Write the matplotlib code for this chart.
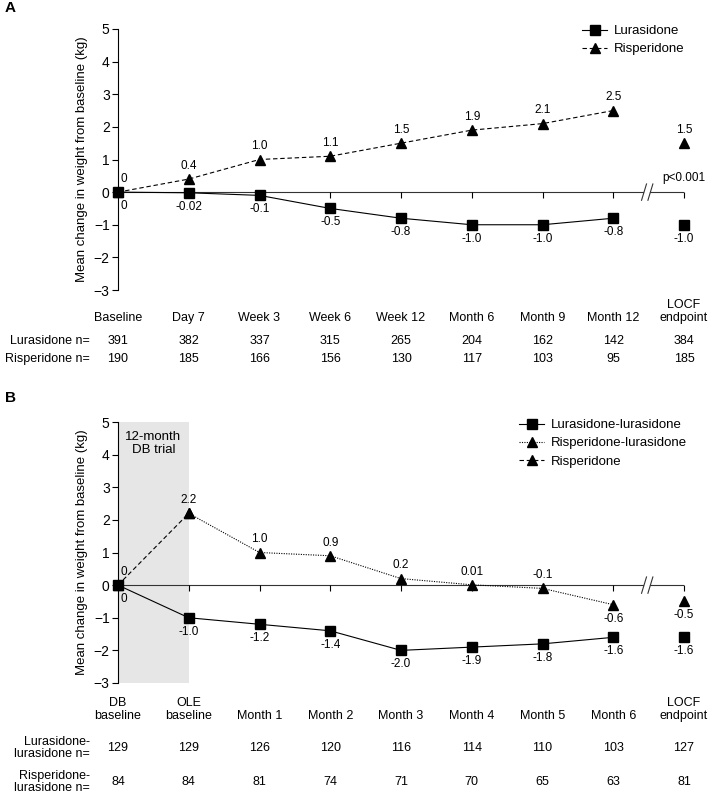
import matplotlib
matplotlib.use('Agg')
import matplotlib.pyplot as plt
from matplotlib.transforms import blended_transform_factory

plt.rcParams['font.family'] = ['Liberation Sans', 'DejaVu Sans']

# ---- panel A data
a_cats = ['Baseline', 'Day 7', 'Week 3', 'Week 6', 'Week 12', 'Month 6',
          'Month 9', 'Month 12', 'LOCF\nendpoint']
a_lur = [0, -0.02, -0.1, -0.5, -0.8, -1.0, -1.0, -0.8]
a_lur_locf = -1.0
a_ris = [0, 0.4, 1.0, 1.1, 1.5, 1.9, 2.1, 2.5]
a_ris_locf = 1.5
a_lur_lab = ['0', '-0.02', '-0.1', '-0.5', '-0.8', '-1.0', '-1.0', '-0.8', '-1.0']
a_ris_lab = ['0', '0.4', '1.0', '1.1', '1.5', '1.9', '2.1', '2.5', '1.5']
a_n_lur = [391, 382, 337, 315, 265, 204, 162, 142, 384]
a_n_ris = [190, 185, 166, 156, 130, 117, 103, 95, 185]

# ---- panel B data
b_cats = ['DB\nbaseline', 'OLE\nbaseline', 'Month 1', 'Month 2', 'Month 3',
          'Month 4', 'Month 5', 'Month 6', 'LOCF\nendpoint']
b_ll = [0, -1.0, -1.2, -1.4, -2.0, -1.9, -1.8, -1.6]
b_ll_locf = -1.6
b_rl = [2.2, 1.0, 0.9, 0.2, 0.01, -0.1, -0.6]   # OLE baseline .. Month 6
b_rl_locf = -0.5
b_ris = [0, 2.2]                                # DB baseline -> OLE baseline
b_ll_lab = ['0', '-1.0', '-1.2', '-1.4', '-2.0', '-1.9', '-1.8', '-1.6', '-1.6']
b_rl_lab = ['2.2', '1.0', '0.9', '0.2', '0.01', '-0.1', '-0.6', '-0.5']
b_n_ll = [129, 129, 126, 120, 116, 114, 110, 103, 127]
b_n_rl = [84, 84, 81, 74, 71, 70, 65, 63, 81]

W, H = 708, 795
fig = plt.figure(figsize=(W / 100, H / 100), dpi=100)

def fy(py):
    return 1 - py / H

MS_SQ = 7
MS_TR = 7.5
LW = 0.8
DASH = (0, (4, 2.5))
DOT = (0, (1, 1.2))


def setup_axes(ax):
    ax.set_xlim(0, 8)
    ax.set_ylim(-3, 5)
    ax.set_yticks(range(-3, 6))
    ax.set_xticks(range(1, 9))
    ax.set_xticklabels([])
    for s in ['top', 'right']:
        ax.spines[s].set_visible(False)
    ax.spines['bottom'].set_position(('data', 0))
    ax.spines['bottom'].set_visible(False)
    ax.spines['left'].set_linewidth(LW)
    ax.tick_params(axis='y', direction='out', length=4, width=LW, labelsize=10, pad=2)
    ax.tick_params(axis='x', direction='out', length=4, width=LW)
    ax.set_ylabel('Mean change in weight from baseline (kg)', fontsize=9.5, labelpad=4)
    # zero line with break
    ax.plot([0, 7.42], [0, 0], color='#333333', lw=LW, zorder=1)
    ax.plot([7.52, 8], [0, 0], color='#333333', lw=LW, zorder=1)
    for x0 in [7.40, 7.49]:
        ax.plot([x0, x0 + 0.07], [-0.25, 0.25], color='#333333', lw=LW, clip_on=False)


def lab(ax, x, y, s, up):
    ax.annotate(s, (x, y), xytext=(0, 9.5 if up else -10), textcoords='offset points',
                ha='center', va='center', fontsize=8.5)


def bottom_table(ax, cats, rows, row_names, cat_py, row_pys):
    tr = blended_transform_factory(ax.transData, fig.transFigure)
    for i, c in enumerate(cats):
        ax.text(i, fy(cat_py), c, transform=tr, ha='center', va='bottom',
                fontsize=9, linespacing=1.1)
        for vals, py in zip(rows, row_pys):
            ax.text(i, fy(py), str(vals[i]), transform=tr, ha='center',
                    va='center', fontsize=9)
    for name, py in zip(row_names, row_pys):
        fig.text(90 / W, fy(py), name, ha='right', va='center', fontsize=9,
                 multialignment='right', linespacing=1.1)


# ================= Panel A
axA = fig.add_axes([118 / W, fy(290), (684 - 118) / W, (290 - 29) / H])
setup_axes(axA)
xs = list(range(8))
axA.plot(xs, a_ris, color='black', lw=LW, ls=DASH, marker='^', ms=MS_TR,
         clip_on=False, zorder=3, label='Risperidone')
axA.plot(xs, a_lur, color='black', lw=LW, marker='s', ms=MS_SQ,
         clip_on=False, zorder=4, label='Lurasidone')
axA.plot([8], [a_ris_locf], color='black', marker='^', ms=MS_TR, ls='none', clip_on=False)
axA.plot([8], [a_lur_locf], color='black', marker='s', ms=MS_SQ, ls='none', clip_on=False)
for i in range(1, 9):
    lab(axA, i, (a_ris + [a_ris_locf])[i], a_ris_lab[i], True)
    lab(axA, i, (a_lur + [a_lur_locf])[i], a_lur_lab[i], False)
axA.annotate('0', (0, 0), xytext=(4, 9.5), textcoords='offset points', ha='center',
             va='center', fontsize=8.5)
axA.annotate('0', (0, 0), xytext=(4, -10), textcoords='offset points', ha='center',
             va='center', fontsize=8.5)
axA.text(8, 0.43, 'p<0.001', ha='center', va='center', fontsize=8.5)
h, l = axA.get_legend_handles_labels()
fig.legend(h[::-1], l[::-1], loc='upper left', bbox_to_anchor=(582 / W, fy(25)),
           frameon=False, fontsize=9.5, borderpad=0, borderaxespad=0,
           handlelength=1.9, handletextpad=0.5, labelspacing=0.45)
bottom_table(axA, a_cats, [a_n_lur, a_n_ris], ['Lurasidone n=', 'Risperidone n='],
             324, [341, 359])
fig.text(5 / W, fy(8), 'A', fontsize=11, fontweight='bold', va='center')

# ================= Panel B
axB = fig.add_axes([118 / W, fy(683), (684 - 118) / W, (683 - 422) / H])
setup_axes(axB)
axB.axvspan(0, 1, color='#e6e6e6', zorder=0, lw=0)
axB.text(0.5, 4.34, '12-month\nDB trial', ha='center', va='center', fontsize=9.5,
         linespacing=1.15)
axB.plot(range(1, 8), b_rl, color='black', lw=LW, ls=DOT, marker='^', ms=MS_TR,
         clip_on=False, zorder=3, label='Risperidone-lurasidone')
axB.plot([0, 1], b_ris, color='black', lw=LW, ls=DASH, marker='^', ms=MS_TR,
         clip_on=False, zorder=3, label='Risperidone')
axB.plot(xs, b_ll, color='black', lw=LW, marker='s', ms=MS_SQ,
         clip_on=False, zorder=4, label='Lurasidone-lurasidone')
axB.plot([8], [b_rl_locf], color='black', marker='^', ms=MS_TR, ls='none', clip_on=False)
axB.plot([8], [b_ll_locf], color='black', marker='s', ms=MS_SQ, ls='none', clip_on=False)
rl_all = b_rl + [b_rl_locf]
for i in range(1, 9):
    lab(axB, i, rl_all[i - 1], b_rl_lab[i - 1], i < 7)
    lab(axB, i, (b_ll + [b_ll_locf])[i], b_ll_lab[i], False)
axB.annotate('0', (0, 0), xytext=(4, 9.5), textcoords='offset points', ha='center',
             va='center', fontsize=8.5)
axB.annotate('0', (0, 0), xytext=(4, -10), textcoords='offset points', ha='center',
             va='center', fontsize=8.5)
h, l = axB.get_legend_handles_labels()
fig.legend([h[2], h[0], h[1]], [l[2], l[0], l[1]], loc='upper left',
           bbox_to_anchor=(519 / W, fy(419)), frameon=False, fontsize=9.5,
           borderpad=0, borderaxespad=0, handlelength=1.9, handletextpad=0.5,
           labelspacing=0.45)
bottom_table(axB, b_cats, [b_n_ll, b_n_rl],
             ['Lurasidone-\nlurasidone n=', 'Risperidone-\nlurasidone n='],
             722, [748, 782])
fig.text(5 / W, fy(398), 'B', fontsize=11, fontweight='bold', va='center')

fig.savefig('out.png', dpi=100)
